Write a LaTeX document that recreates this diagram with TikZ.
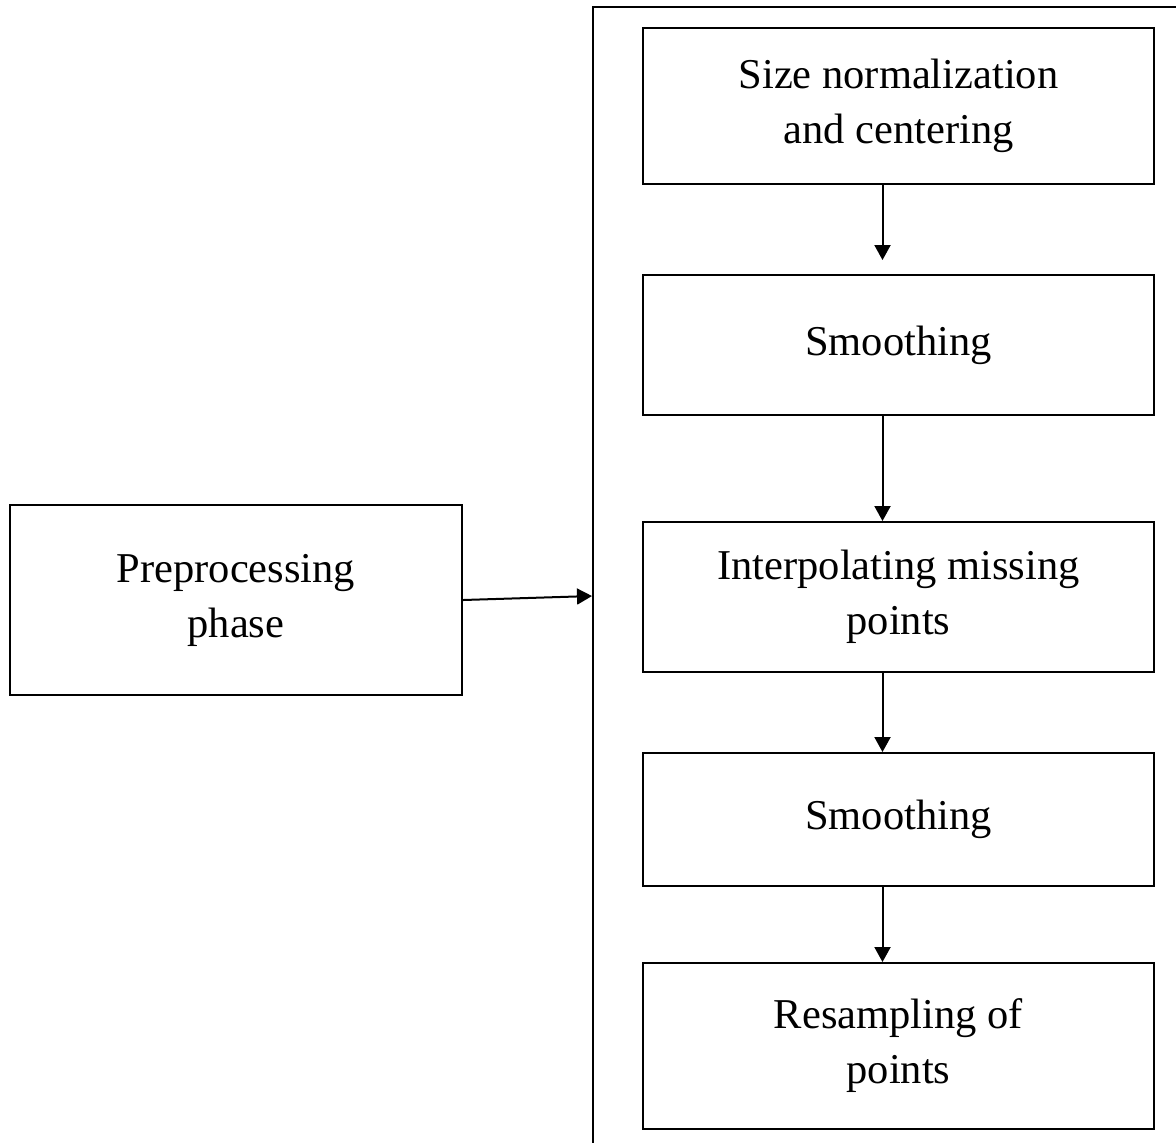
\documentclass[tikz,border=0pt]{standalone}
\usepackage{fontspec}
\setmainfont{Liberation Serif}
\usetikzlibrary{arrows.meta}

\begin{document}
\begin{tikzpicture}
[x=0.5pt,y=-0.5pt,
stepbox/.style={draw,black,line width=1pt,inner sep=0pt,align=center,minimum width=255.5pt,font=\fontsize{21.25}{27.5}\selectfont},
blackarrow/.style={-{Triangle[width=8pt,length=7.5pt]},black,line width=1pt},
frameline/.style={draw,black,line width=1pt,inner sep=0pt}]

\useasboundingbox (0,0) rectangle (1176,1142);

% outer frame (runs off the page on the right and bottom)
\node[frameline,minimum width=313.5pt,minimum height=586.5pt](frame) at (906.5,593.5){};

% preprocessing
\node[stepbox,minimum width=226pt,minimum height=95pt](prep) at (236,600){Preprocessing\\phase};
\draw[blackarrow] (prep.east) -- ([yshift=2pt]prep.east -| frame.west);

% steps
\node[stepbox,minimum height=78pt](size) at (898.5,106){Size normalization\\and centering};
\node[stepbox,minimum height=70pt](smoothA) at (898.5,345){Smoothing};
\node[stepbox,minimum height=75pt](interp) at (898.5,597){Interpolating missing\\points};
\node[stepbox,minimum height=66.5pt](smoothB) at (898.5,819.5){Smoothing};
\node[stepbox,minimum height=83pt](resamp) at (898.5,1046){Resampling of\\points};

\draw[blackarrow,shorten >=7pt] ([xshift=-8pt]size.south) -- ([xshift=-8pt]smoothA.north);
\draw[blackarrow] ([xshift=-8pt]smoothA.south) -- ([xshift=-8pt]interp.north);
\draw[blackarrow] ([xshift=-8pt]interp.south) -- ([xshift=-8pt]smoothB.north);
\draw[blackarrow] ([xshift=-8pt]smoothB.south) -- ([xshift=-8pt]resamp.north);

\end{tikzpicture}
\end{document}
